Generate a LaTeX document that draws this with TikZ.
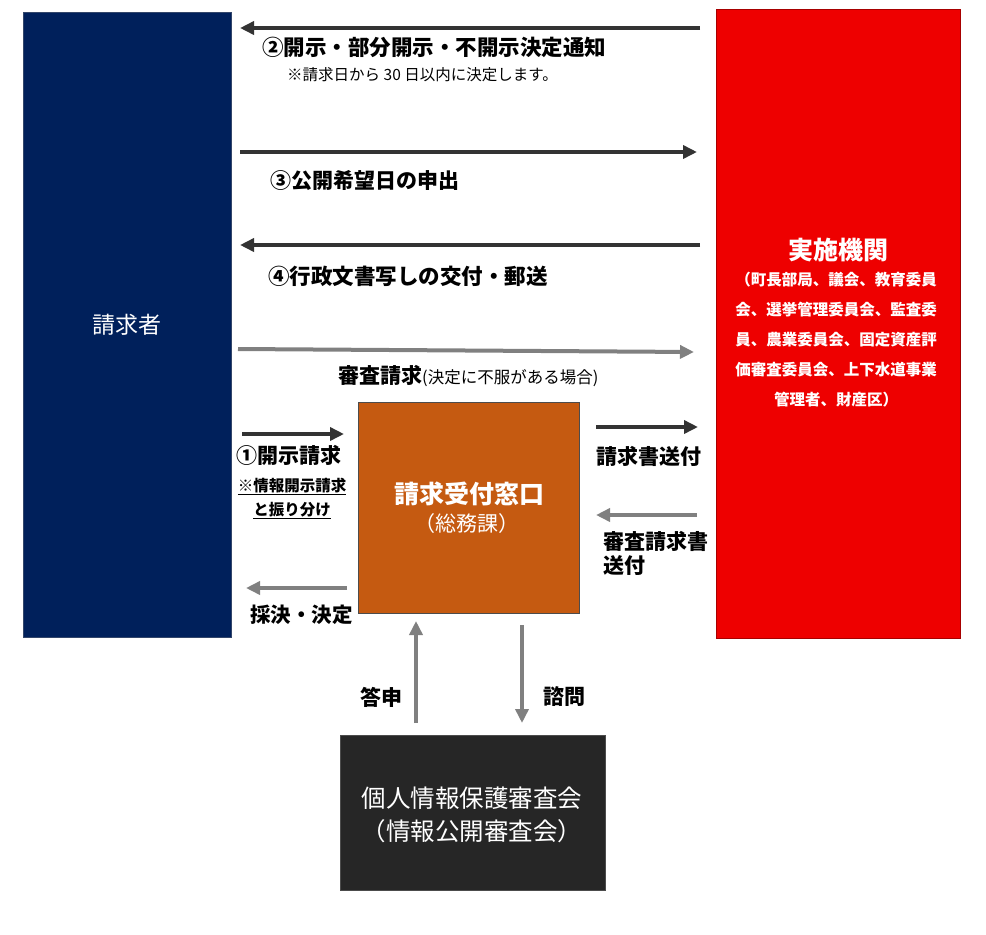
\documentclass[tikz,border=0pt]{standalone}
\usepackage{fontspec}
\setmainfont{Noto Sans CJK JP}
\newfontfamily\jp{Noto Sans CJK JP}
\usetikzlibrary{arrows.meta}
\definecolor{navy}{HTML}{00205B}
\definecolor{redbox}{HTML}{EE0000}
\definecolor{orangebox}{HTML}{C55A11}
\definecolor{blackbox}{HTML}{262626}
\definecolor{darkarrow}{HTML}{333333}
\definecolor{grayarrow}{HTML}{808080}
\tikzset{
  darr/.style={draw=darkarrow, line width=4pt, -{Triangle[length=14pt,width=13pt]}},
  garr/.style={draw=grayarrow, line width=4pt, -{Triangle[length=14pt,width=13pt]}},
  lbl/.style={inner sep=0pt, font=\jp\bfseries\fontsize{21}{25}\selectfont, text=black},
  wtxt/.style={inner sep=0pt, text=white, align=center},
}
\begin{document}
\begin{tikzpicture}[x=1pt,y=-1pt]
\useasboundingbox (0,0) rectangle (986,935);
% boxes
\fill[navy] (23,12) rectangle (231,637);
\draw[navy!60!gray, line width=0.8pt] (23,12) rectangle (231,637);
\node[wtxt, font=\jp\fontsize{23}{27}\selectfont] (req) at (127,325) {請求者};

\fill[redbox] (716,9) rectangle (960,638);
\draw[redbox!70!black, line width=0.8pt] (716,9) rectangle (960,638);
\node[wtxt, font=\jp\bfseries\fontsize{25}{29}\selectfont] (org) at (838,250) {実施機関};
\node[wtxt, font=\jp\bfseries\fontsize{15.5}{30}\selectfont, anchor=north] (orgsub) at (836,272)
  {（町長部局、議会、教育委員\\会、選挙管理委員会、監査委\\員、農業委員会、固定資産評\\価審査委員会、上下水道事業\\管理者、財産区）};

\fill[orangebox] (358,402) rectangle (579,613);
\draw[black!70, line width=1pt] (358,402) rectangle (579,613);
\node[wtxt, font=\jp\bfseries\fontsize{25}{29}\selectfont] (desk) at (469,494) {請求受付窓口};
\node[wtxt, font=\jp\fontsize{21}{25}\selectfont] (desk2) at (467,524) {（総務課）};

\fill[blackbox] (340,735) rectangle (605,890);
\draw[gray!60!black, line width=0.8pt] (340,735) rectangle (605,890);
\node[wtxt, font=\jp\fontsize{24.5}{29}\selectfont] (comm) at (472,798) {個人情報保護審査会};
\node[wtxt, font=\jp\fontsize{24.5}{29}\selectfont] (comm2) at (472,831) {（情報公開審査会）};

% arrow endpoints
\coordinate (a2s) at (700,28);   \coordinate (a2e) at (240,28);
\coordinate (a3s) at (240,152);  \coordinate (a3e) at (697,152);
\coordinate (a4s) at (700,245);  \coordinate (a4e) at (240,245);
\coordinate (aks) at (238,349);  \coordinate (ake) at (694,352);
\coordinate (a1s) at (242,434);  \coordinate (a1e) at (344,434);
\coordinate (ads) at (347,588);  \coordinate (ade) at (246,588);
\coordinate (ass) at (596,427);  \coordinate (ase) at (698,427);
\coordinate (ars) at (697,515);  \coordinate (are) at (596,515);
\coordinate (aus) at (416,723);  \coordinate (aue) at (416,621);
\coordinate (ads2) at (522,625); \coordinate (ade2) at (522,723);

\draw[darr] (a2s) -- (a2e);
\draw[darr] (a3s) -- (a3e);
\draw[darr] (a4s) -- (a4e);
\draw[garr] (aks) -- (ake);
\draw[darr] (a1s) -- (a1e);
\draw[garr] (ads) -- (ade);
\draw[darr] (ass) -- (ase);
\draw[garr] (ars) -- (are);
\draw[garr] (aus) -- (aue);
\draw[garr] (ads2) -- (ade2);

% labels
\node[lbl, anchor=west, font=\jp\bfseries\fontsize{21.5}{25}\selectfont] (l2) at (262,47) {②開示・部分開示・不開示決定通知};
\node[lbl, anchor=west, font=\jp\fontsize{15.5}{18}\selectfont] (l2n) at (287,75) {※請求日から 30 日以内に決定します。};
\node[lbl, anchor=west] (l3) at (270,181) {③公開希望日の申出};
\node[lbl, anchor=west, font=\jp\bfseries\fontsize{21.5}{25}\selectfont] (l4) at (268,276) {④行政文書写しの交付・郵送};
\node[lbl, anchor=west] (lk) at (338,376) {審査請求{\mdseries\fontsize{16.5}{18}\selectfont (決定に不服がある場合)}};
\node[lbl, anchor=west] (l1) at (236,455) {①開示請求};
\node[lbl, align=center, font=\jp\bfseries\fontsize{15.5}{24}\selectfont, anchor=north] (l1n) at (292,478) {\underline{※情報開示請求}\\\underline{と振り分け}};
\node[lbl, anchor=west, font=\jp\bfseries\fontsize{20.5}{24}\selectfont] (ld) at (250,615) {採決・決定};
\node[lbl, anchor=west] (ls) at (596,456) {請求書送付};
\node[lbl, anchor=north west, align=left, font=\jp\bfseries\fontsize{21}{24}\selectfont] (lr) at (603,531) {審査請求書\\送付};
\node[lbl] (lu) at (381,697) {答申};
\node[lbl] (lsm) at (564,697) {諮問};
\end{tikzpicture}
\end{document}
